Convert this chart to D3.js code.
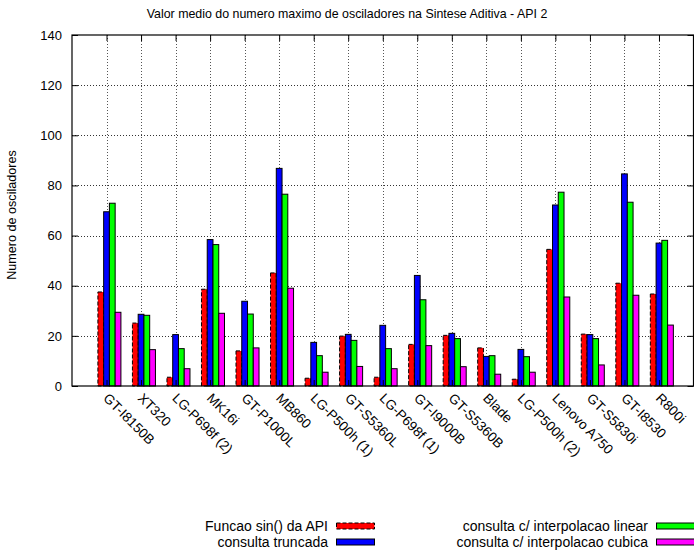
<!DOCTYPE html>
<html>
<head>
<meta charset="utf-8">
<script src="https://cdn.jsdelivr.net/npm/d3@7"></script>
<style>
  body { margin: 0; background: #fff; }
  text { font-family: "Liberation Sans", Arial, Helvetica, sans-serif; fill: #000; }
</style>
</head>
<body>
<svg id="chart" width="694" height="550"></svg>
<script>
// Average maximum number of oscillators per device, four lookup methods
const categories = ["GT-I8150B", "XT320", "LG-P698f (2)", "MK16i", "GT-P1000L", "MB860",
  "LG-P500h (1)", "GT-S5360L", "LG-P698f (1)", "GT-I9000B", "GT-S5360B", "Blade",
  "LG-P500h (2)", "Lenovo A750", "GT-S5830i", "GT-I8530", "R800i"];
const sinApi    = [37.5, 25.1, 3.5, 38.6, 14.0, 45.1, 3.1, 19.9, 3.5, 16.6, 20.2, 15.2, 2.7, 54.5, 20.7, 41.0, 36.7];
const truncada  = [69.5, 28.6, 20.5, 58.4, 33.8, 86.8, 17.4, 20.6, 24.2, 44.1, 21.0, 11.8, 14.6, 72.2, 20.5, 84.6, 57.0];
const linear    = [72.9, 28.2, 14.9, 56.4, 28.7, 76.5, 12.1, 18.2, 14.9, 34.4, 18.9, 12.1, 11.7, 77.3, 18.9, 73.3, 58.1];
const cubica    = [29.4, 14.5, 6.9, 29.0, 15.2, 39.0, 5.5, 7.8, 6.9, 16.1, 7.7, 4.7, 5.5, 35.5, 8.4, 36.2, 24.3];
const yTicks = [0, 20, 40, 60, 80, 100, 120, 140];
const seriesNames = ["Funcao sin() da API", "consulta truncada",
  "consulta c/ interpolacao linear", "consulta c/ interpolacao cubica"];
const seriesColors = ["#ff0000", "#0000ff", "#00ff00", "#ff00ff"];

const title = "Valor medio do numero maximo de osciladores na Sintese Aditiva - API 2";
const yTitle = "Numero de osciladores";

const series = [sinApi, truncada, linear, cubica];
const svg = d3.select("#chart");

const plotL = 72, plotR = 693.5, plotT = 35, plotB = 386;
const x = d3.scaleLinear().domain([-1, categories.length]).range([plotL, plotR]);
const y = d3.scaleLinear().domain([0, 140]).range([plotB, plotT]);
const nSeries = series.length, gap = 2;
const barW = 1 / (nSeries + gap);

// dotted grid
const grid = svg.append("g");
grid.selectAll("line.h").data(yTicks.slice(1, -1)).join("line")
  .attr("x1", plotL).attr("x2", plotR)
  .attr("y1", d => Math.round(y(d)) + 0.5).attr("y2", d => Math.round(y(d)) + 0.5)
  .attr("stroke", "#333").attr("stroke-width", 1).attr("stroke-dasharray", "1,2");
grid.selectAll("line.v").data(d3.range(categories.length)).join("line")
  .attr("x1", d => Math.round(x(d)) + 0.5).attr("x2", d => Math.round(x(d)) + 0.5)
  .attr("y1", plotT).attr("y2", plotB)
  .attr("stroke", "#555").attr("stroke-width", 1).attr("stroke-dasharray", "1,2");

// bars
const bars = svg.append("g");
series.forEach((vals, j) => {
  bars.selectAll(null).data(vals).join("rect")
    .attr("x", (d, i) => x(i + (j - 1.5) * barW))
    .attr("width", x(barW) - x(0))
    .attr("y", d => y(d))
    .attr("height", d => y(0) - y(d))
    .attr("fill", seriesColors[j])
    .attr("stroke", "#000").attr("stroke-width", 1)
    .attr("stroke-dasharray", j === 0 ? "4,2" : null);
});

// axes: inward ticks on all four sides
const yAxis = svg.append("g").attr("transform", `translate(${plotL},0)`)
  .call(d3.axisLeft(y).tickValues(yTicks).tickSizeInner(-6).tickSizeOuter(0).tickPadding(10));
yAxis.select(".domain").remove();
yAxis.selectAll("line").attr("stroke", "#000");
yAxis.selectAll("text").attr("font-size", 13).attr("font-family", null);

const yAxisR = svg.append("g").attr("transform", `translate(${plotR},0)`)
  .call(d3.axisRight(y).tickValues(yTicks).tickSizeInner(-6).tickSizeOuter(0).tickFormat(""));
yAxisR.select(".domain").remove();

const xAxis = svg.append("g").attr("transform", `translate(0,${plotB})`)
  .call(d3.axisBottom(x).tickValues(d3.range(categories.length)).tickSizeInner(-6).tickSizeOuter(0).tickFormat(""));
xAxis.select(".domain").remove();
const xAxisT = svg.append("g").attr("transform", `translate(0,${plotT})`)
  .call(d3.axisTop(x).tickValues(d3.range(categories.length)).tickSizeInner(-6).tickSizeOuter(0).tickFormat(""));
xAxisT.select(".domain").remove();

// frame
svg.append("rect").attr("x", plotL).attr("y", plotT)
  .attr("width", plotR - plotL).attr("height", plotB - plotT)
  .attr("fill", "none").attr("stroke", "#000").attr("stroke-width", 1.2);

// rotated category labels
svg.append("g").selectAll("text").data(categories).join("text")
  .attr("transform", (d, i) => `translate(${x(i) - 4},${plotB + 13}) rotate(45)`)
  .attr("font-size", 13.6)
  .text(d => d);

// title and y title
svg.append("text").attr("x", 347).attr("y", 18).attr("text-anchor", "middle")
  .attr("font-size", 12.4).text(title);
svg.append("text").attr("transform", "translate(16,215) rotate(-90)")
  .attr("text-anchor", "middle").attr("font-size", 12.6).text(yTitle);

// legend in two columns
const legendPos = [
  { tx: 328, y: 531 }, { tx: 328, y: 547 },
  { tx: 648, y: 531 }, { tx: 648, y: 547 }
];
const legend = svg.append("g");
seriesNames.forEach((name, j) => {
  const p = legendPos[j];
  legend.append("text").attr("x", p.tx).attr("y", p.y).attr("text-anchor", "end")
    .attr("font-size", 14).text(name);
  legend.append("rect").attr("x", p.tx + 8.5).attr("y", p.y - 8)
    .attr("width", 38).attr("height", 6)
    .attr("fill", seriesColors[j]).attr("stroke", "#000").attr("stroke-width", 1)
    .attr("stroke-dasharray", j === 0 ? "4,2" : null);
});
</script>
</body>
</html>
